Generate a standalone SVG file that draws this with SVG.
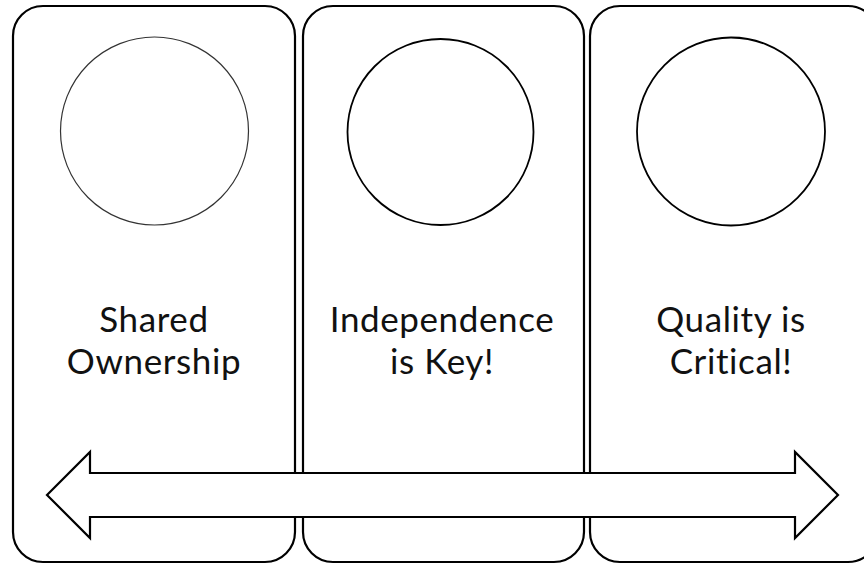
<svg xmlns="http://www.w3.org/2000/svg" width="864" height="565" viewBox="0 0 864 565">
  <style>
    .panel { fill: #ffffff; stroke: #000000; stroke-width: 2.2; }
    .ring { fill: none; stroke: #000000; stroke-width: 1.8; }
    .ring.thin { stroke: #333333; stroke-width: 1.2; }
    .label { font-family: Lato, "Open Sans", "Liberation Sans", sans-serif; font-size: 35px; letter-spacing: 0.6px; fill: #111111; text-anchor: middle; }
    .arrow { fill: #ffffff; stroke: #000000; stroke-width: 2.2; stroke-linejoin: miter; }
  </style>

  <!-- Door-hanger panels -->
  <g id="panel-shared-ownership">
    <rect class="panel" x="13" y="6" width="282" height="556" rx="30" ry="30"/>
    <circle class="ring thin" cx="154.5" cy="131" r="94"/>
    <text class="label" x="154" y="332">Shared</text>
    <text class="label" x="154" y="374">Ownership</text>
  </g>

  <g id="panel-independence">
    <rect class="panel" x="303" y="6" width="281" height="556" rx="30" ry="30"/>
    <circle class="ring" cx="440.5" cy="132" r="93"/>
    <text class="label" x="442" y="332">Independence</text>
    <text class="label" x="442" y="374">is Key!</text>
  </g>

  <g id="panel-quality">
    <rect class="panel" x="590" y="6" width="288" height="556" rx="30" ry="30"/>
    <circle class="ring" cx="731" cy="131.5" r="94"/>
    <text class="label" x="731" y="332">Quality is</text>
    <text class="label" x="731" y="374">Critical!</text>
  </g>

  <!-- Double-headed arrow across the panels -->
  <g id="connectors">
    <path class="arrow" d="M47,495 L90,452 L90,473 L795,473 L795,452 L838,495 L795,538 L795,517 L90,517 L90,538 Z"/>
  </g>
</svg>
